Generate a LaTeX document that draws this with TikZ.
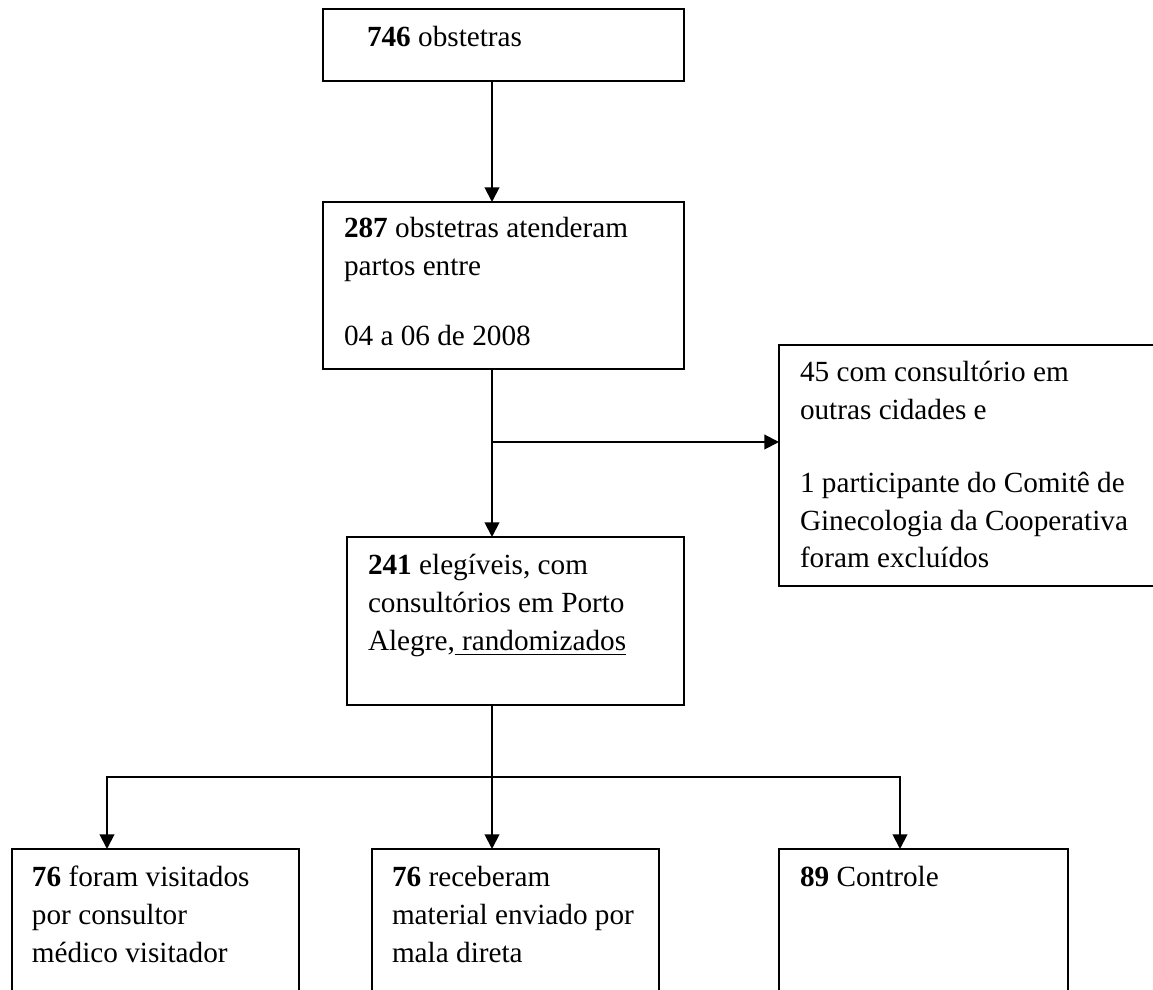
\documentclass[tikz,border=0pt]{standalone}
\usepackage{fontspec}
\setmainfont{Liberation Serif}
\usetikzlibrary{arrows.meta}
\newlength\pxu
\setlength\pxu{0.4105pt}
\newsavebox\ulbox
\newcommand\boxtext[5]{\begin{minipage}[t][#2\pxu][t]{#1\pxu}\fontsize{12pt}{15.4pt}\selectfont\setlength\leftskip{#3\pxu}\noindent\rule{0pt}{#4\pxu}#5\end{minipage}}
\newcommand\myul[1]{\sbox\ulbox{#1}\rlap{\rule[-2.2pt]{\wd\ulbox}{0.7pt}}\usebox\ulbox}
\begin{document}
\begin{tikzpicture}[x=0.4105pt,y=-0.4105pt,
  box/.style={draw, line width=0.8pt, inner sep=0pt, outer sep=0pt, anchor=north west},
  arr/.style={line width=0.8pt, -{Triangle[length=6pt,width=6pt]}},
  ln/.style={line width=0.8pt}]
\useasboundingbox (0,0) rectangle (1153,990);
\clip (0,0) rectangle (1153,990);
\node[box] (b1) at (323,9) {\boxtext{361}{72}{44}{38}{\textbf{746} obstetras}};
\node[box] (b2) at (323,202) {\boxtext{361}{167}{21}{36}{\textbf{287} obstetras atenderam\\ partos entre\\[13.3pt] 04 a 06 de 2008}};
\node[box] (b3) at (779,345) {\boxtext{400}{241}{21}{37}{45 com consultório em\\ outras cidades e\\[14.6pt] 1 participante do Comitê de\\ Ginecologia da Cooperativa\\ foram excluídos}};
\node[box] (b4) at (347,537) {\boxtext{337}{168}{21}{38}{\textbf{241} elegíveis, com\\ consultórios em Porto\\ Alegre,\myul{ randomizados}}};
\node[box] (b5) at (12,849) {\boxtext{287}{200}{20}{38}{\textbf{76} foram visitados\\ por consultor\\ médico visitador}};
\node[box] (b6) at (372,849) {\boxtext{287}{200}{20}{38}{\textbf{76} receberam\\ material enviado por\\ mala direta}};
\node[box] (b7) at (779,849) {\boxtext{289}{200}{21}{38}{\textbf{89} Controle}};
\coordinate (cx) at (492,0);
\coordinate (br) at (492,442);
\coordinate (sp) at (492,777);
\coordinate (lx) at (107,777);
\coordinate (rx) at (900,777);
\draw[arr] (b1.south -| cx) -- (b2.north -| cx);
\draw[arr] (b2.south -| cx) -- (b4.north -| cx);
\draw[arr] (br) -- (b3.west |- br);
\draw[arr] (b4.south -| cx) -- (b6.north -| cx);
\draw[arr] (sp) -| (b5.north -| lx);
\draw[arr] (sp) -| (b7.north -| rx);
\end{tikzpicture}
\end{document}
